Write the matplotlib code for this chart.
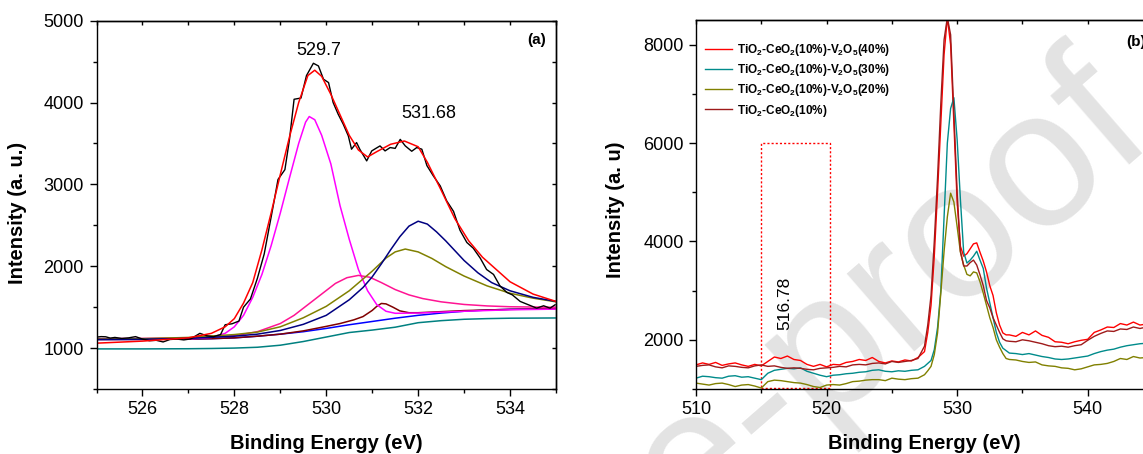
import numpy as np
import matplotlib.pyplot as plt
from matplotlib.patches import Rectangle
from matplotlib.ticker import MultipleLocator

plt.rcParams['font.family'] = ['Liberation Sans', 'DejaVu Sans']
plt.rcParams['mathtext.fontset'] = 'custom'
plt.rcParams['mathtext.rm'] = 'Liberation Sans'
plt.rcParams['mathtext.bf'] = 'Liberation Sans:bold'
plt.rcParams['axes.linewidth'] = 1.0

# ---- (a) O 1s fit ----
raw_e = [525.00, 525.10, 525.20, 525.30, 525.40, 525.55, 525.70, 525.85, 526.00, 526.15,
         526.30, 526.45, 526.60, 526.75, 526.90, 527.05, 527.25, 527.40, 527.55, 527.70,
         527.80, 527.95, 528.10, 528.20, 528.35, 528.50, 528.65, 528.80, 528.85, 528.95,
         529.10, 529.20, 529.30, 529.45, 529.57, 529.72, 529.83, 529.94, 530.05, 530.15,
         530.26, 530.37, 530.48, 530.55, 530.66, 530.73, 530.88, 530.99, 531.08, 531.17,
         531.28, 531.39, 531.50, 531.61, 531.72, 531.86, 531.97, 532.08, 532.19, 532.33,
         532.48, 532.62, 532.77, 532.91, 533.06, 533.20, 533.35, 533.49, 533.64, 533.78,
         533.93, 534.05, 534.22, 534.40, 534.58, 534.73, 534.87, 534.98]
raw_i = [1134, 1140, 1138, 1122, 1130, 1118, 1125, 1140, 1110, 1090,
         1095, 1075, 1105, 1110, 1100, 1112, 1180, 1150, 1140, 1165,
         1285, 1297, 1330, 1500, 1600, 1850, 2150, 2600, 2750, 3060,
         3180, 3550, 4040, 4055, 4330, 4480, 4447, 4285, 4244, 4000,
         3857, 3735, 3593, 3430, 3511, 3430, 3287, 3409, 3440, 3470,
         3409, 3450, 3440, 3550, 3470, 3405, 3450, 3430, 3230, 3104,
         2982, 2800, 2670, 2440, 2290, 2220, 2100, 1960, 1900, 1760,
         1680, 1650, 1570, 1529, 1488, 1517, 1488, 1529]

env_e = [525, 526, 527, 527.5, 527.8, 528.0, 528.2, 528.4, 528.6, 528.8, 529.0, 529.2,
         529.4, 529.6, 529.75, 529.9, 530.1, 530.3, 530.5, 530.7, 530.9, 531.1, 531.4,
         531.7, 532.0, 532.2, 532.5, 532.8, 533.1, 533.4, 533.7, 534.0, 534.5, 535]
env_i = [1060, 1085, 1125, 1180, 1260, 1360, 1550, 1800, 2200, 2650, 3120, 3580,
         4000, 4330, 4395, 4320, 4100, 3850, 3600, 3420, 3335, 3400, 3490,
         3530, 3460, 3270, 2930, 2580, 2310, 2110, 1960, 1810, 1660, 1570]

bg1_e = [525, 526, 527, 527.5, 528, 528.5, 529, 529.5, 530, 530.5, 531, 531.5, 532,
         532.5, 533, 533.5, 534, 535]
bg1_i = [990, 990, 992, 995, 1000, 1010, 1035, 1080, 1135, 1190, 1220, 1255, 1310,
         1335, 1352, 1360, 1365, 1368]

bg2_e = [525, 526, 527, 527.5, 528, 528.5, 529, 529.5, 530, 530.5, 531, 531.5, 532,
         532.5, 533, 533.5, 534, 535]
bg2_i = [1105, 1106, 1110, 1115, 1125, 1145, 1170, 1200, 1240, 1285, 1325, 1365, 1400,
         1428, 1450, 1465, 1474, 1480]

p5_e = [525, 526, 527, 527.5, 528, 528.5, 529, 529.5, 530, 530.3, 530.6, 530.8, 531.0,
        531.1, 531.2, 531.3, 531.45, 531.6, 531.8, 532, 532.5, 533, 534, 535]
p5_i = [1105, 1106, 1110, 1115, 1125, 1145, 1170, 1210, 1265, 1300, 1345, 1385, 1460,
        1510, 1545, 1540, 1500, 1455, 1432, 1432, 1445, 1458, 1473, 1480]

p1_e = [525, 526, 527, 527.5, 527.8, 528.0, 528.2, 528.4, 528.6, 528.8, 529.0, 529.2,
        529.4, 529.55, 529.63, 529.75, 529.9, 530.1, 530.3, 530.5, 530.7, 530.9, 531.1,
        531.3, 531.5, 532, 533, 534, 535]
p1_i = [1108, 1109, 1112, 1130, 1180, 1260, 1400, 1620, 1900, 2250, 2650, 3080,
        3500, 3760, 3829, 3790, 3600, 3250, 2740, 2330, 1960, 1700, 1530,
        1450, 1425, 1428, 1450, 1468, 1476]

p2_e = [525, 526, 527, 528, 528.5, 529, 529.3, 529.6, 529.9, 530.2, 530.45, 530.7,
        530.95, 531.2, 531.5, 531.8, 532.1, 532.5, 533, 533.5, 534, 535]
p2_i = [1115, 1118, 1125, 1150, 1200, 1300, 1400, 1530, 1660, 1790, 1860, 1888,
        1865, 1800, 1715, 1650, 1605, 1565, 1533, 1515, 1505, 1498]

p3_e = [525, 526, 527, 528, 528.5, 529, 529.5, 530, 530.5, 531, 531.3, 531.5, 531.72,
        532.0, 532.3, 532.6, 533.0, 533.5, 534, 534.5, 535]
p3_i = [1110, 1115, 1130, 1165, 1195, 1260, 1370, 1510, 1700, 1940, 2100, 2175, 2210,
        2175, 2095, 1995, 1880, 1760, 1670, 1610, 1565]

p4_e = [525, 526, 527, 528, 528.5, 529, 529.5, 530, 530.5, 530.8, 531.0, 531.2, 531.4,
        531.6, 531.8, 532.0, 532.2, 532.4, 532.6, 532.8, 533.0, 533.3, 533.6, 534.0,
        534.5, 535]
p4_i = [1105, 1108, 1118, 1145, 1170, 1215, 1290, 1400, 1590, 1740, 1870, 2030, 2200,
        2360, 2490, 2550, 2515, 2420, 2310, 2190, 2070, 1920, 1800, 1700,
        1620, 1570]

peak_labels = [(529.84, 4642, '529.7'), (532.24, 3869, '531.68')]

# ---- (b) survey of the O 1s region ----
be = [510, 510.5, 511, 511.5, 512, 512.5, 513, 513.5, 514, 514.5, 515, 515.5, 516, 516.5,
      517, 517.5, 518, 518.5, 519, 519.5, 520, 520.5, 521, 521.5, 522, 522.5, 523, 523.5,
      524, 524.5, 525, 525.5, 526, 526.5, 527, 527.5,
      527.75, 528, 528.25, 528.5, 528.75, 529, 529.25, 529.5, 529.75, 530, 530.25, 530.5,
      530.75, 531, 531.25, 531.5, 531.75, 532, 532.25, 532.5, 532.75, 533, 533.25, 533.5,
      533.75, 534,
      534.5, 535, 535.5, 536, 536.5, 537, 537.5, 538, 538.5, 539, 539.5, 540, 540.5, 541,
      541.5, 542, 542.5, 543, 543.5, 544, 544.5, 545]

v40 = [1490, 1530, 1500, 1540, 1480, 1510, 1530, 1490, 1460, 1500, 1470, 1560, 1650, 1620,
       1670, 1600, 1580, 1500, 1460, 1500, 1450, 1500, 1490, 1540, 1560, 1600, 1580, 1640,
       1560, 1530, 1570, 1550, 1590, 1570, 1640, 1760,
       2150, 2700, 3700, 5000, 6400, 7800, 8550, 8000, 6400, 4800, 3900, 3700,
       3750, 3850, 3950, 3970, 3780, 3600, 3380, 3100, 2900, 2550, 2300, 2140,
       2100, 2100,
       2070, 2150, 2100, 2180, 2090, 2050, 1960, 1950, 1920, 1960, 1990, 2010, 2150, 2200,
       2260, 2250, 2330, 2300, 2360, 2300, 2320, 2280]

v30 = [1220, 1260, 1250, 1230, 1220, 1260, 1270, 1240, 1250, 1220, 1190, 1320, 1380, 1400,
       1420, 1410, 1430, 1360, 1320, 1280, 1250, 1280, 1290, 1310, 1320, 1340, 1350, 1380,
       1390, 1360, 1350, 1370, 1360, 1380, 1390, 1460,
       1520, 1580, 1800, 2250, 3000, 4500, 6000, 6700, 6920, 6070, 4850, 3780,
       3560, 3620, 3700, 3800, 3620, 3450, 3050, 2750, 2450, 2150, 1950, 1830,
       1780, 1730,
       1720, 1700, 1720, 1690, 1660, 1640, 1610, 1600, 1610, 1630, 1650, 1670, 1720, 1760,
       1790, 1810, 1850, 1880, 1900, 1920, 1930, 1940]

v20 = [1120, 1100, 1080, 1110, 1120, 1090, 1050, 1080, 1090, 1060, 1020, 1150, 1180, 1170,
       1150, 1130, 1120, 1090, 1050, 1030, 1080, 1090, 1080, 1110, 1150, 1160, 1180, 1190,
       1190, 1170, 1220, 1200, 1190, 1210, 1220, 1290,
       1370, 1460, 1700, 2140, 2950, 3800, 4500, 4980, 4800, 4300, 3780, 3520,
       3330, 3300, 3380, 3360, 3180, 2950, 2700, 2450, 2250, 2000, 1850, 1720,
       1620, 1600,
       1590, 1560, 1540, 1550, 1490, 1470, 1460, 1430, 1420, 1390, 1410, 1450, 1490, 1500,
       1520, 1560, 1620, 1600, 1660, 1630, 1640, 1650]

v00 = [1460, 1480, 1490, 1450, 1430, 1470, 1460, 1440, 1430, 1470, 1490, 1460, 1470, 1440,
       1420, 1430, 1420, 1400, 1390, 1420, 1430, 1440, 1460, 1450, 1490, 1500, 1490, 1520,
       1530, 1510, 1560, 1540, 1560, 1580, 1620, 1870,
       2300, 2900, 4000, 5300, 6800, 8100, 8550, 8200, 6600, 5000, 3800, 3500,
       3500, 3570, 3620, 3520, 3320, 3100, 2800, 2650, 2450, 2300, 2150, 2020,
       1980, 1970,
       1960, 2000, 1980, 1950, 1920, 1880, 1860, 1870, 1850, 1880, 1900, 1990, 2070, 2130,
       2180, 2170, 2220, 2210, 2260, 2230, 2260, 2240]

labels_b = [r'TiO$_\mathbf{2}$-CeO$_\mathbf{2}$(10%)-V$_\mathbf{2}$O$_\mathbf{5}$(40%)',
            r'TiO$_\mathbf{2}$-CeO$_\mathbf{2}$(10%)-V$_\mathbf{2}$O$_\mathbf{5}$(30%)',
            r'TiO$_\mathbf{2}$-CeO$_\mathbf{2}$(10%)-V$_\mathbf{2}$O$_\mathbf{5}$(20%)',
            r'TiO$_\mathbf{2}$-CeO$_\mathbf{2}$(10%)']
colors_b = ['#ff0000', '#008b8b', '#808000', '#9e1a1a']

box_e = (515.0, 520.3)
box_top = 6000

W, H = 1143, 454
fig = plt.figure(figsize=(W / 100, H / 100), dpi=100)

# watermark behind both panels
fig.text(1158 / W, 1 - 140 / H, 'Journal Pre-proof', fontsize=140, color='#e3e3e3',
         rotation=41, rotation_mode='anchor', ha='right', va='baseline', zorder=-1)

ax1 = fig.add_axes([96.5 / W, (H - 389) / H, (556 - 96.5) / W, (389 - 20.7) / H])
ax2 = fig.add_axes([696 / W, (H - 389) / H, (1153 - 696) / W, (389 - 20) / H])
for ax in (ax1, ax2):
    ax.set_facecolor('none')


def style_axes(ax, xmaj, xmin, ymaj, ymin):
    ax.xaxis.set_major_locator(MultipleLocator(xmaj))
    ax.xaxis.set_minor_locator(MultipleLocator(xmin))
    ax.yaxis.set_major_locator(MultipleLocator(ymaj))
    ax.yaxis.set_minor_locator(MultipleLocator(ymin))
    ax.tick_params(which='major', direction='out', length=5, width=1, labelsize=13, pad=4)
    ax.tick_params(which='minor', direction='out', length=3, width=1)
    # mirrored inward ticks on top and right
    top = ax.secondary_xaxis('top')
    top.xaxis.set_major_locator(MultipleLocator(xmaj))
    top.xaxis.set_minor_locator(MultipleLocator(xmin))
    top.tick_params(which='both', direction='in', length=3, width=1, labeltop=False)
    right = ax.secondary_yaxis('right')
    right.yaxis.set_major_locator(MultipleLocator(ymaj))
    right.yaxis.set_minor_locator(MultipleLocator(ymin))
    right.tick_params(which='both', direction='in', length=3, width=1, labelright=False)


# (a)
ax1.plot(bg1_e, bg1_i, color='#008080', lw=1.1)
ax1.plot(bg2_e, bg2_i, color='#0000ff', lw=1.1)
ax1.plot(p5_e, p5_i, color='#800000', lw=1.1)
ax1.plot(p1_e, p1_i, color='#ff00ff', lw=1.1)
ax1.plot(p2_e, p2_i, color='#ff1493', lw=1.1)
ax1.plot(p3_e, p3_i, color='#808000', lw=1.1)
ax1.plot(p4_e, p4_i, color='#000080', lw=1.1)
ax1.plot(raw_e, raw_i, color='black', lw=1.0)
ax1.plot(env_e, env_i, color='#ff0000', lw=1.1)
for x, y, s in peak_labels:
    ax1.text(x, y, s, ha='center', va='center', fontsize=13)
ax1.text(0.958, 0.948, '(a)', transform=ax1.transAxes, ha='center', va='center',
         fontsize=11, fontweight='bold')
ax1.set_xlim(525, 535)
ax1.set_ylim(500, 5000)
style_axes(ax1, 2, 1, 1000, 500)
ax1.set_xlabel('Binding Energy (eV)', fontsize=14.5, fontweight='bold')
ax1.set_ylabel('Intensity (a. u.)', fontsize=14.5, fontweight='bold')
ax1.xaxis.set_label_coords(0.5, -0.122)
ax1.yaxis.set_label_coords(-0.151, 0.478)

# (b)
for vals, c, lab in zip([v40, v30, v20, v00], colors_b, labels_b):
    ax2.plot(be, vals, color=c, lw=1.0, label=lab)
ax2.add_patch(Rectangle((box_e[0], 1015), box_e[1] - box_e[0], box_top - 1015,
                        fill=False, ec='#ff0000', lw=1.0, ls=(0, (1.5, 1.5))))
ax2.text(516.78, 2740, '516.78', rotation=90, ha='center', va='center', fontsize=12.5)
ax2.text(0.963, 0.94, '(b)', transform=ax2.transAxes, ha='center', va='center',
         fontsize=11, fontweight='bold')
ax2.set_xlim(510, 545)
ax2.set_ylim(1000, 8500)
style_axes(ax2, 10, 5, 2000, 1000)
ax2.set_xlabel('Binding Energy (eV)', fontsize=14.5, fontweight='bold')
ax2.set_ylabel('Intensity (a. u)', fontsize=14.5, fontweight='bold')
ax2.xaxis.set_label_coords(0.5, -0.121)
ax2.yaxis.set_label_coords(-0.155, 0.485)
ax2.legend(loc='upper left', bbox_to_anchor=(0.02, 0.94), frameon=False,
           prop={'weight': 'bold', 'size': 8.5}, handlelength=2.3, handletextpad=0.4,
           labelspacing=0.35, borderpad=0, borderaxespad=0)

fig.savefig('out.png', dpi=100)
